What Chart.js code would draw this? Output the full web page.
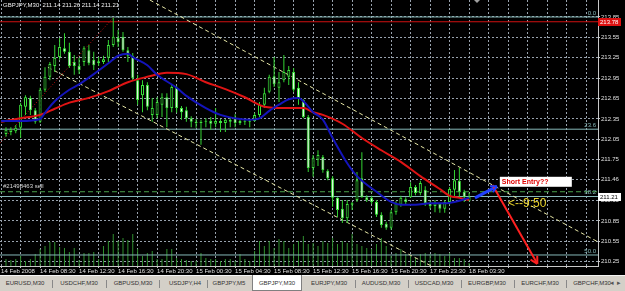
<!DOCTYPE html>
<html>
<head>
<meta charset="utf-8">
<script src="https://cdn.jsdelivr.net/npm/chart.js@4.4.1/dist/chart.umd.min.js"></script>
<style>
  body { margin: 0; background: #000; width: 625px; height: 291px; overflow: hidden; position: relative; font-family: "Liberation Sans", Arial, sans-serif; }
  #c { position: absolute; left: 0; top: 0; }
  #tabs { position: absolute; left: 0; top: 275px; width: 625px; height: 16px; background: #d4d0c8; border-top: 1px solid #f4f4f4; box-sizing: border-box; }
  .tab { position: absolute; top: 4px; font-size: 6px; color: #333; transform: translateX(-50%); white-space: nowrap; }
  .sep { position: absolute; top: 4px; width: 1px; height: 8px; background: #888; }
  .on { position: absolute; top: -1px; left: 252px; width: 50px; height: 16px; background: #fff; border: 1px solid #808080; border-top: none; box-sizing: border-box; }
  .arr { position: absolute; top: 3px; font-size: 7px; color: #555; }
</style>
</head>
<body>
<canvas id="c" width="625" height="275"></canvas>
<div id="tabs">
  <div class="on"></div>
</div>
<script>
// GBPJPY M30 candles, bar 0 = 14 Feb 04:30
const opens = [212.13,212.16,212.17,212.22,212.53,212.66,212.48,212.31,212.78,212.97,
  213.13,213.26,213.39,213.34,213.19,213.13,213.19,213.36,213.22,213.17,
  213.19,213.25,213.44,213.54,213.56,213.36,213.28,212.92,212.70,212.85,
  212.41,212.41,212.56,212.67,212.51,212.81,212.51,212.48,212.36,212.31,
  212.29,212.31,212.32,212.28,212.32,212.29,212.34,212.36,212.29,212.32,
  212.31,212.32,212.41,212.56,212.75,212.98,212.81,212.92,212.97,213.04,
  212.81,212.63,212.38,211.63,211.75,211.79,211.59,211.48,211.19,211.03,
  210.89,211.09,211.16,211.48,211.20,211.19,211.13,210.94,210.81,210.75,
  210.98,211.09,211.17,211.20,211.35,211.26,211.31,211.11,211.07,211.10,
  211.03,211.13,211.31,211.44,211.28,211.14];
const highs = [212.23,212.23,212.26,212.59,212.70,212.69,212.51,212.81,213.11,213.19,
  213.44,213.54,213.61,213.47,213.29,213.25,213.42,213.44,213.34,213.26,
  213.28,213.51,213.84,213.66,213.63,213.41,213.32,213.00,212.92,212.89,
  212.66,212.67,212.73,212.73,212.85,212.84,212.54,212.53,212.39,212.35,
  212.34,212.36,212.38,212.51,212.35,212.35,212.38,212.42,212.35,212.34,
  212.35,212.44,212.60,212.81,213.00,213.26,213.04,213.29,213.13,213.10,
  212.89,212.64,212.41,211.82,211.89,211.82,211.61,211.51,211.20,211.16,
  211.16,211.13,211.57,211.86,211.23,211.22,211.16,210.98,210.84,211.01,
  211.14,211.22,211.20,211.42,211.38,211.44,211.36,211.14,211.16,211.11,
  211.16,211.35,211.60,211.63,211.31,211.26];
const lows = [212.09,212.11,212.14,212.07,212.41,212.41,212.28,212.29,212.75,212.92,
  213.04,213.22,213.31,213.10,213.00,213.01,213.13,213.14,213.07,213.13,
  213.16,213.19,213.41,213.41,213.34,213.19,212.92,212.56,212.45,212.48,
  212.31,212.36,212.38,212.23,212.45,212.44,212.34,212.31,212.23,212.22,
  211.97,212.23,212.19,212.23,212.16,212.16,212.23,212.23,212.26,212.26,
  212.23,212.31,212.38,212.51,212.73,212.82,212.60,212.89,212.85,212.75,
  212.56,212.36,211.57,211.50,211.66,211.56,211.45,211.06,210.91,210.82,
  210.82,211.01,211.13,211.19,211.13,211.10,210.91,210.75,210.72,210.72,
  210.94,211.06,211.09,211.19,211.23,211.23,211.07,211.03,210.98,210.97,
  210.97,211.09,211.19,211.20,211.13,211.14];
const closes = [212.19,212.20,212.22,212.56,212.67,212.48,212.31,212.78,212.97,213.16,
  213.25,213.41,213.34,213.13,213.13,213.07,213.39,213.17,213.14,213.20,
  213.23,213.44,213.56,213.48,213.36,213.28,212.95,212.63,212.85,212.53,
  212.51,212.60,212.67,212.51,212.82,212.51,212.45,212.36,212.31,212.29,
  212.31,212.32,212.28,212.32,212.29,212.34,212.31,212.29,212.32,212.31,
  212.32,212.41,212.56,212.73,212.97,212.86,212.89,213.04,213.07,212.78,
  212.66,212.38,211.63,211.78,211.82,211.60,211.48,211.19,211.01,210.89,
  211.10,211.11,211.45,211.20,211.16,211.13,210.94,210.79,210.75,210.98,
  211.11,211.19,211.13,211.35,211.26,211.41,211.11,211.07,211.11,211.03,
  211.13,211.32,211.45,211.28,211.20,211.21];
const volumes = [70,60,70,100,50,70,120,170,200,240,
  240,190,180,140,180,60,130,130,140,70,
  200,250,320,250,280,260,320,170,100,130,
  150,70,70,170,170,80,70,60,50,50,
  130,80,70,70,50,70,70,50,120,70,
  50,150,250,200,250,180,270,250,180,220,
  250,300,220,230,200,250,230,280,220,250,
  230,320,220,200,180,170,220,280,200,100,
  130,170,120,100,80,120,130,120,130,120,
  100,130,80,80,70,30];

// moving averages (bar index, price)
const blueMaBars = [-1,3,7,8,10,13,15,18,21,23,25,26,29,31,35,37,41,44,48,50,52,54,56,58,60,61,63,65,67,70,72,76,79,81,84,87,90,92,95];
const blueMa = [212.32,212.32,212.35,212.44,212.61,212.78,212.86,213.01,213.17,213.28,213.31,213.26,213.14,213.00,212.81,
  212.69,212.51,212.41,212.35,212.34,212.36,212.47,212.56,212.64,212.66,212.61,212.45,212.34,212.07,211.70,
  211.51,211.28,211.13,211.09,211.09,211.11,211.11,211.13,211.19];
const redMaBars = [-1,3,7,10,13,17,21,25,29,33,37,41,45,49,53,57,61,63,65,69,73,77,81,85,89,91,93,95];
const redMa = [212.31,212.36,212.41,212.50,212.59,212.66,212.76,212.89,212.97,213.03,213.01,212.89,212.79,212.67,
  212.53,212.51,212.51,212.45,212.41,212.28,212.07,211.89,211.72,211.51,211.32,211.22,211.19,211.16];

// axes
const priceTicks = [213.85,213.55,213.25,212.95,212.65,212.35,212.05,211.75,211.46,211.15,210.85,210.55,210.25];
const timeTickBars = [-1,7,15,23,31,39,47,55,63,71,79,87,95];
const timeTickLabels = ["14 Feb 2008","14 Feb 08:30","14 Feb 12:30","14 Feb 16:30","14 Feb 20:30","15 Feb 00:30",
  "15 Feb 04:30","15 Feb 08:30","15 Feb 12:30","15 Feb 16:30","15 Feb 20:30","17 Feb 23:30","18 Feb 03:30"];

// drawn objects
const fibPrices = [213.85, 212.20, 211.21, 210.35];
const fibLabels = ["0.0", "23.6", "38.2", "50.0"];
const upperChanBars = [29.5, 121.5], upperChanPrices = [214.10, 210.54];
const lowerChanBars = [8.6, 88], lowerChanPrices = [213.11, 210.16];
const fibTrendBars = [-1.23, 22], fibTrendPrices = [212.00, 213.84];
const blueArrowBars = [96.2, 100.7], blueArrowPrices = [211.19, 211.36];
const redArrowBars = [99.8, 109], redArrowPrices = [211.38, 210.22];
const redLinePrice = 213.78;
const orderPrice = 211.28;
const lastPrice = 211.21;
const noteBars = [101.3, 103.0], notePrices = [211.50, 211.20];

const tabNames = ["EURUSD,M30","USDCHF,M30","GBPUSD,M30","USDJPY,H4","GBPJPY,M5","GBPJPY,M30",
  "EURJPY,M30","AUDUSD,M30","USDCAD,M30","EURGBP,M30","EURCHF,M30","GBPCHF,M30"];
const tabCenters = [25,79,133,185,229,277,329,381,434,487,540,592];

const X_MIN = -1.23, X_MAX = 121.44;
const Y_MIN = 210.188, Y_MAX = 214.10;
const FONT = '"Liberation Sans", Arial, sans-serif';

// tab strip
const tabs = document.getElementById("tabs");
tabNames.forEach((n, i) => {
  const t = document.createElement("div");
  t.className = "tab";
  t.style.left = tabCenters[i] + "px";
  t.textContent = n;
  tabs.appendChild(t);
  if (i > 0 && i !== 5 && i !== 6) {
    const s = document.createElement("div");
    s.className = "sep";
    s.style.left = Math.round((tabCenters[i] + tabCenters[i - 1]) / 2) + "px";
    tabs.appendChild(s);
  }
});
["\u25C2", "\u25B8"].forEach((a, i) => {
  const d = document.createElement("div");
  d.className = "arr";
  d.style.left = (610 + i * 7) + "px";
  d.textContent = a;
  tabs.appendChild(d);
});

const idx = closes.map((_, i) => i);
const pts = (xs, ys) => xs.map((x, i) => ({ x: x, y: ys[i] }));
const level = p => [{ x: X_MIN, y: p }, { x: X_MAX, y: p }];
const gridBars = [];
for (let k = -1; k <= X_MAX; k += 4) gridBars.push(k);

function lineSet(data, color, width, dash, order) {
  return { type: "line", data: data, borderColor: color, borderWidth: width, borderDash: dash || [],
    pointRadius: 0, fill: false, clip: 0, order: order };
}

function arrowHead(ctx, xs, ys, bars, prices, color, width, len) {
  const x1 = xs.getPixelForValue(bars[0]), y1 = ys.getPixelForValue(prices[0]);
  const x2 = xs.getPixelForValue(bars[1]), y2 = ys.getPixelForValue(prices[1]);
  const ang = Math.atan2(y2 - y1, x2 - x1);
  ctx.strokeStyle = color;
  ctx.lineWidth = width;
  ctx.beginPath();
  [-1, 1].forEach(s => {
    ctx.moveTo(x2, y2);
    ctx.lineTo(x2 - len * Math.cos(ang + s * 0.5), y2 - len * Math.sin(ang + s * 0.5));
  });
  ctx.stroke();
}

function priceBox(ctx, ys, right, price, bg, fg) {
  const py = Math.round(ys.getPixelForValue(price));
  ctx.fillStyle = bg;
  ctx.fillRect(right, py - 4, 23, 8);
  ctx.fillStyle = fg;
  ctx.textAlign = "left";
  ctx.textBaseline = "middle";
  ctx.fillText(price.toFixed(2), right + 2, py);
}

const overlay = {
  id: "overlay",
  afterDraw(chart) {
    const { ctx, chartArea: a, scales: { x, y } } = chart;
    ctx.save();
    arrowHead(ctx, x, y, redArrowBars, redArrowPrices, "#ff2020", 2, 8);
    arrowHead(ctx, x, y, blueArrowBars, blueArrowPrices, "#2040ff", 2, 7);

    ctx.font = "6px " + FONT;
    ctx.fillStyle = "#86b8b8";
    ctx.textAlign = "right";
    ctx.textBaseline = "bottom";
    fibPrices.forEach((p, i) => ctx.fillText(fibLabels[i], a.right - 2, y.getPixelForValue(p) - 1));

    ctx.fillStyle = "#d8d8d8";
    ctx.textAlign = "left";
    ctx.fillText("#21498463 sell", 3, y.getPixelForValue(orderPrice) - 2);

    // "Short Entry??" label
    const sx = x.getPixelForValue(noteBars[0]), sy = y.getPixelForValue(notePrices[0]);
    ctx.fillStyle = "#ffffff";
    ctx.fillRect(sx, sy, 72, 10);
    ctx.fillStyle = "#e00000";
    ctx.font = "bold 7px " + FONT;
    ctx.textBaseline = "middle";
    ctx.fillText("Short Entry??", sx + 2, sy + 5);

    ctx.fillStyle = "#e5cf2a";
    ctx.font = "12px " + FONT;
    ctx.textBaseline = "top";
    ctx.fillText("<--9:50", x.getPixelForValue(noteBars[1]), y.getPixelForValue(notePrices[1]));

    // header
    ctx.fillStyle = "#f0f0f0";
    ctx.font = "6px " + FONT;
    ctx.fillText("GBPJPY,M30  211.14 211.26 211.14 211.21", 3, 2);

    // chart shift marker
    ctx.fillStyle = "#a0a0a0";
    ctx.beginPath();
    ctx.moveTo(474, 0); ctx.lineTo(480, 0); ctx.lineTo(477, 3); ctx.closePath();
    ctx.fill();

    ctx.font = "6px " + FONT;
    priceBox(ctx, y, a.right, redLinePrice, "#dd1111", "#ffffff");
    priceBox(ctx, y, a.right, lastPrice, "#ffffff", "#000000");
    ctx.restore();
  }
};

Chart.defaults.font.family = FONT;
Chart.defaults.font.size = 6;

const datasets = [
  lineSet(pts(redArrowBars, redArrowPrices), "#ff2020", 2, [], 0),
  lineSet(pts(blueArrowBars, blueArrowPrices), "#2040ff", 3, [], 0),
  Object.assign(lineSet(pts(blueMaBars, blueMa), "#1414bb", 2, [], 1), { cubicInterpolationMode: "monotone" }),
  Object.assign(lineSet(pts(redMaBars, redMa), "#e01414", 2, [], 2), { cubicInterpolationMode: "monotone" }),
  {
    type: "bar", order: 3, grouped: false, maxBarThickness: 3, minBarLength: 1,
    data: idx.map(i => ({ x: i, y: [opens[i], closes[i]] })),
    backgroundColor: idx.map(i => closes[i] >= opens[i] ? "#000000" : "#f2fff2"),
    borderColor: "#3ce23c", borderWidth: 1, borderSkipped: false
  },
  {
    type: "bar", order: 4, grouped: false, maxBarThickness: 1,
    data: idx.map(i => ({ x: i, y: [lows[i], highs[i]] })),
    backgroundColor: "#33d433", borderWidth: 0
  },
  lineSet(pts(upperChanBars, upperChanPrices), "#e6e6a6", 1, [4, 3], 5),
  lineSet(pts(lowerChanBars, lowerChanPrices), "#e6e6a6", 1, [4, 3], 5),
  lineSet(pts(fibTrendBars, fibTrendPrices), "#c01010", 1, [1, 2], 5),
  ...fibPrices.map(p => lineSet(level(p), "#86b8b8", 1, [], 6)),
  lineSet(level(redLinePrice), "#d01010", 1, [], 6),
  lineSet(level(orderPrice), "#4aa04a", 1, [5, 3], 6),
  {
    type: "bar", order: 8, grouped: false, maxBarThickness: 1, yAxisID: "v",
    data: idx.map(i => ({ x: i, y: volumes[i] })),
    backgroundColor: "#2f8f2f", borderWidth: 0
  }
];

new Chart(document.getElementById("c"), {
  type: "bar",
  data: { datasets: datasets },
  options: {
    responsive: false,
    devicePixelRatio: 1,
    animation: false,
    events: [],
    layout: { padding: 0 },
    plugins: { legend: { display: false }, tooltip: { enabled: false } },
    scales: {
      x: {
        type: "linear", min: X_MIN, max: X_MAX, offset: false,
        afterBuildTicks: s => { s.ticks = gridBars.map(v => ({ value: v })); },
        afterFit: s => { s.height = 9; s.paddingLeft = 0; s.paddingRight = 0; },
        grid: { color: "#98a2ad", offset: false, tickLength: 2, tickColor: "#c8c8c8" },
        border: { display: true, color: "#c8c8c8", dash: [2, 2] },
        ticks: {
          color: "#e0e0e0", padding: 0, autoSkip: false, maxRotation: 0, align: "start",
          callback: v => { const i = timeTickBars.indexOf(v); return i >= 0 ? timeTickLabels[i] : ""; }
        }
      },
      y: {
        position: "right", min: Y_MIN, max: Y_MAX,
        afterBuildTicks: s => { s.ticks = priceTicks.map(v => ({ value: v })); },
        afterFit: s => { s.width = 27; s.paddingTop = 0; s.paddingBottom = 0; },
        grid: { color: "#98a2ad", tickLength: 2, tickColor: "#c8c8c8" },
        border: { display: true, color: "#c8c8c8", dash: [2, 2] },
        ticks: { color: "#e0e0e0", padding: 1, callback: v => v.toFixed(2) }
      },
      v: { display: false, min: 0, max: 2660 }
    }
  },
  plugins: [overlay]
});
</script>
</body>
</html>
